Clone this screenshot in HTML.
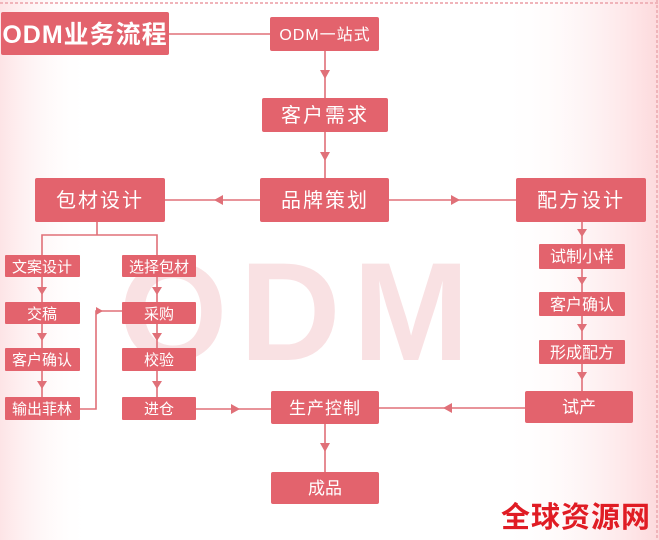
<!DOCTYPE html>
<html><head><meta charset="utf-8"><style>
html,body{margin:0;padding:0;width:659px;height:540px;overflow:hidden;background:#fff}
</style></head><body>
<svg width="659" height="540" xmlns="http://www.w3.org/2000/svg" font-family="Liberation Sans, Noto Sans CJK SC, sans-serif">
<defs>
<linearGradient id="gl" x1="0" x2="1"><stop offset="0" stop-color="#fde4e6"/><stop offset="1" stop-color="#fff" stop-opacity="0"/></linearGradient>
<linearGradient id="gr" x1="0" x2="1"><stop offset="0" stop-color="#fff" stop-opacity="0"/><stop offset="1" stop-color="#fdd9dc"/></linearGradient>
</defs>
<rect width="659" height="540" fill="#fff"/>
<rect x="0" y="0" width="90" height="540" fill="url(#gl)"/>
<rect x="500" y="0" width="159" height="540" fill="url(#gr)"/>
<line x1="0" y1="3" x2="659" y2="3" stroke="#f0b4ba" stroke-width="2" stroke-dasharray="3,2"/>
<line x1="657" y1="0" x2="657" y2="540" stroke="#f0b4ba" stroke-width="2" stroke-dasharray="3,2"/>
<text x="300" y="360" font-size="140" font-weight="bold" fill="#f9e1e3" text-anchor="middle" letter-spacing="12">ODM</text>
<g stroke="#e07078" stroke-width="1.6" fill="none">
<line x1="169" y1="34" x2="270" y2="34"/>
<line x1="325" y1="51" x2="325" y2="98"/>
<line x1="325" y1="132" x2="325" y2="178"/>
<line x1="165" y1="200" x2="260" y2="200"/>
<line x1="389" y1="200" x2="516" y2="200"/>
<line x1="97" y1="222" x2="97" y2="235"/>
<polyline points="42,255 42,235 157,235 157,255"/>
<line x1="42" y1="277" x2="42" y2="302"/>
<line x1="42" y1="324" x2="42" y2="348"/>
<line x1="42" y1="371" x2="42" y2="397"/>
<line x1="157" y1="277" x2="157" y2="302"/>
<line x1="157" y1="324" x2="157" y2="348"/>
<line x1="157" y1="371" x2="157" y2="397"/>
<polyline points="80,409 96,409 96,311 122,311"/>
<line x1="196" y1="409" x2="271" y2="409"/>
<line x1="525" y1="408" x2="379" y2="408"/>
<line x1="582" y1="222" x2="582" y2="391"/>
<line x1="325" y1="424" x2="325" y2="472"/>
</g>
<g fill="#e07078">
<path d="M320,70 L330,70 L325,79Z"/>
<path d="M320,152 L330,152 L325,161Z"/>
<path d="M223,195 L223,205 L214,200Z"/>
<path d="M451,195 L451,205 L460,200Z"/>
<path d="M37,287 L47,287 L42,295Z"/>
<path d="M37,333 L47,333 L42,341Z"/>
<path d="M37,381 L47,381 L42,389Z"/>
<path d="M152,287 L162,287 L157,295Z"/>
<path d="M152,333 L162,333 L157,341Z"/>
<path d="M152,381 L162,381 L157,389Z"/>
<path d="M96,307 L96,315 L103,311Z"/>
<path d="M231,404 L231,414 L240,409Z"/>
<path d="M452,403 L452,413 L443,408Z"/>
<path d="M577,229 L587,229 L582,237Z"/>
<path d="M577,277 L587,277 L582,285Z"/>
<path d="M577,324 L587,324 L582,332Z"/>
<path d="M577,372 L587,372 L582,380Z"/>
<path d="M320,443 L330,443 L325,452Z"/>
</g>
<g fill="#e3636d">
<rect x="1" y="12" width="168" height="43" rx="2"/>
<rect x="270" y="17" width="109" height="34" rx="2"/>
<rect x="262" y="98" width="126" height="34" rx="2"/>
<rect x="260" y="178" width="129" height="44" rx="2"/>
<rect x="35" y="178" width="130" height="44" rx="2"/>
<rect x="516" y="178" width="130" height="44" rx="2"/>
<rect x="5" y="255" width="75" height="22" rx="1"/>
<rect x="5" y="302" width="75" height="22" rx="1"/>
<rect x="5" y="348" width="75" height="23" rx="1"/>
<rect x="5" y="397" width="75" height="23" rx="1"/>
<rect x="122" y="255" width="74" height="22" rx="1"/>
<rect x="122" y="302" width="74" height="22" rx="1"/>
<rect x="122" y="348" width="74" height="23" rx="1"/>
<rect x="122" y="397" width="74" height="23" rx="1"/>
<rect x="539" y="244" width="86" height="25" rx="1"/>
<rect x="539" y="292" width="86" height="24" rx="1"/>
<rect x="539" y="340" width="86" height="24" rx="1"/>
<rect x="525" y="391" width="108" height="32" rx="2"/>
<rect x="271" y="391" width="108" height="33" rx="2"/>
<rect x="271" y="472" width="108" height="32" rx="2"/>
</g>
<g fill="#fff" text-anchor="middle">
<text x="85" y="43" font-size="25" font-weight="bold" letter-spacing="1">ODM业务流程</text>
<text x="325" y="40" font-size="16" letter-spacing="1">ODM一站式</text>
<text x="325" y="122" font-size="20" letter-spacing="2">客户需求</text>
<text x="325" y="207" font-size="20" letter-spacing="2">品牌策划</text>
<text x="100" y="207" font-size="20" letter-spacing="2">包材设计</text>
<text x="581" y="207" font-size="20" letter-spacing="2">配方设计</text>
<text x="42" y="272" font-size="15">文案设计</text>
<text x="42" y="319" font-size="15">交稿</text>
<text x="42" y="365" font-size="15">客户确认</text>
<text x="42" y="414" font-size="15">输出菲林</text>
<text x="159" y="272" font-size="15">选择包材</text>
<text x="159" y="319" font-size="15">采购</text>
<text x="159" y="365" font-size="15">校验</text>
<text x="159" y="414" font-size="15">进仓</text>
<text x="582" y="262" font-size="16">试制小样</text>
<text x="582" y="310" font-size="16">客户确认</text>
<text x="582" y="358" font-size="16">形成配方</text>
<text x="579" y="413" font-size="17">试产</text>
<text x="325" y="414" font-size="17" letter-spacing="1">生产控制</text>
<text x="325" y="494" font-size="17">成品</text>
</g>
<text x="576" y="527" font-size="29" font-weight="bold" fill="#e01c24" text-anchor="middle" letter-spacing="1">全球资源网</text>
</svg>
</body></html>
